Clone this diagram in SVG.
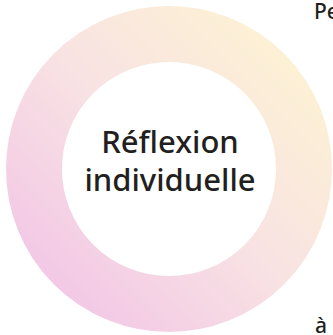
<svg xmlns="http://www.w3.org/2000/svg" width="333" height="335" viewBox="0 0 333 335">
<style>
text{font-family:"Noto Sans","Open Sans",sans-serif;fill:#231f20;font-weight:500}
.c{font-size:31px;text-anchor:middle}
.s{font-size:21px}
</style>
<defs>
<linearGradient id="g" x1="0" y1="1" x2="1" y2="0">
<stop offset="0" stop-color="#f2c4e6"/>
<stop offset="0.5" stop-color="#f8e2e3"/>
<stop offset="1" stop-color="#fdf3d2"/>
</linearGradient>
</defs>
<rect width="333" height="335" fill="#fff"/>
<g id="ring">
<circle cx="169" cy="169" r="135" fill="none" stroke="url(#g)" stroke-width="56"/>
<text class="c" x="170" y="153">Réflexion</text>
<text class="c" x="170" y="191">individuelle</text>
</g>
<g id="side">
<text class="s" x="314" y="19">Pe</text>
<text class="s" x="315" y="333">à</text>
</g>
</svg>
